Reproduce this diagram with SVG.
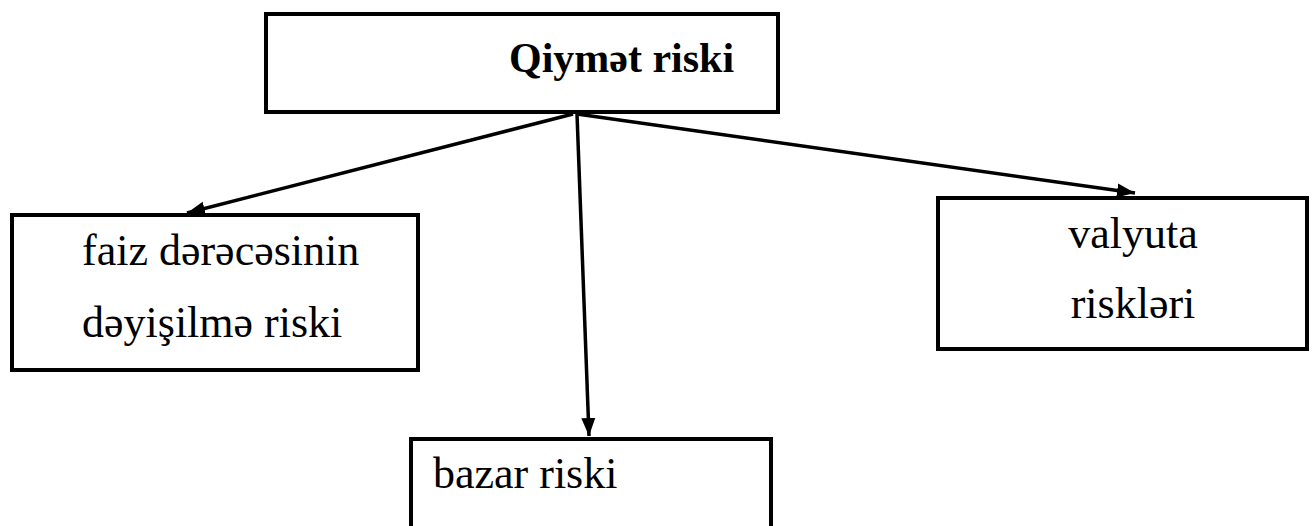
<svg xmlns="http://www.w3.org/2000/svg" width="1312" height="526" viewBox="0 0 1312 526">
  <style>
    .box { fill: #fff; stroke: #000; stroke-width: 4; }
    .lbl { font-family: "Liberation Serif", "Times New Roman", serif; font-size: 44px; fill: #000; }
    .title { font-weight: bold; font-size: 42px; }
    .edge { stroke: #000; stroke-width: 3.5; fill: none; marker-end: url(#arrow); }
  </style>
  <defs>
    <marker id="arrow" markerUnits="userSpaceOnUse" markerWidth="20" markerHeight="16" refX="18" refY="8" orient="auto">
      <path d="M0,1 L18,8 L0,15 Z" fill="#000"/>
    </marker>
  </defs>
  <rect width="1312" height="526" fill="#fff"/>

  <g id="node-qiymet">
    <rect class="box" x="266" y="14" width="512" height="98"/>
    <text class="lbl title" x="509" y="72">Qiymət riski</text>
  </g>

  <g id="node-faiz">
    <rect class="box" x="12" y="215" width="406" height="155"/>
    <text class="lbl" x="82" y="265">faiz dərəcəsinin</text>
    <text class="lbl" x="82" y="337">dəyişilmə riski</text>
  </g>

  <g id="node-valyuta">
    <rect class="box" x="938" y="198" width="369" height="151"/>
    <text class="lbl" x="1133" y="248" text-anchor="middle">valyuta</text>
    <text class="lbl" x="1133" y="318" text-anchor="middle">riskləri</text>
  </g>

  <g id="node-bazar">
    <rect class="box" x="411" y="439" width="360" height="100"/>
    <text class="lbl" x="433" y="488">bazar riski</text>
  </g>

  <g id="connectors">
    <line class="edge" x1="573" y1="114" x2="187" y2="213"/>
    <line class="edge" x1="577" y1="114" x2="589" y2="436"/>
    <line class="edge" x1="577" y1="114" x2="1135" y2="193"/>
  </g>
</svg>
